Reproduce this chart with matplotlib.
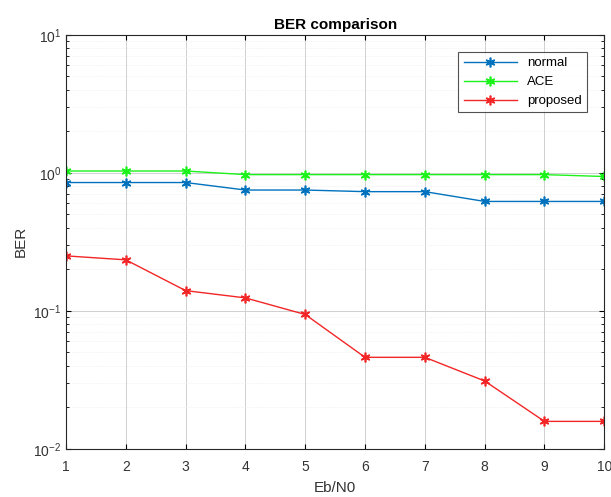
import numpy as np
import matplotlib
matplotlib.use("Agg")
import matplotlib.pyplot as plt

plt.rcParams['font.family'] = ['Liberation Sans', 'DejaVu Sans']

ebn0 = [1, 2, 3, 4, 5, 6, 7, 8, 9, 10]
ber_normal = [0.85, 0.85, 0.85, 0.75, 0.75, 0.73, 0.73, 0.62, 0.62, 0.62]
ber_ace = [1.03, 1.03, 1.03, 0.97, 0.97, 0.97, 0.97, 0.97, 0.97, 0.94]
ber_proposed = [0.25, 0.234, 0.14, 0.124, 0.094, 0.046, 0.046, 0.031, 0.0158, 0.0158]

fig = plt.figure(figsize=(6.11, 4.97), dpi=100)
ax = fig.add_axes([0.108, 0.097, 0.881, 0.833])

# matlab-style asterisk marker
ast = (6, 2, 0)
ax.semilogy(ebn0, ber_normal, '-', marker=ast, color=(0, 0.447, 0.741), label='normal', lw=1, ms=7, mew=1.2)
ax.semilogy(ebn0, ber_ace, '-', marker=ast, color=(0.1, 0.95, 0.1), label='ACE', lw=1, ms=7, mew=1.2)
ax.semilogy(ebn0, ber_proposed, '-', marker=ast, color=(0.95, 0.15, 0.15), label='proposed', lw=1, ms=7, mew=1.2)

ax.set_xlim(1, 10)
ax.set_ylim(1e-2, 10)
ax.set_xticks(ebn0)
ax.grid(True, which='major', color='#d0d0d0', lw=0.7)
ax.grid(True, which='minor', color='#e8e8e8', lw=0.5, ls=':')
ax.tick_params(which='both', direction='in', top=True, right=True, labelsize=10, labelcolor='#333333')
ax.tick_params(axis='x', pad=8)
for s in ax.spines.values():
    s.set_color('#262626')
    s.set_linewidth(0.8)

ax.set_xlabel('Eb/N0', fontsize=11, color='#333333', labelpad=5)
ax.set_ylabel('BER', fontsize=11, color='#333333')
ax.set_title('BER comparison', fontsize=11, fontweight='bold', pad=4)
leg = ax.legend(loc='upper right', fontsize=9.5, fancybox=False, edgecolor='#262626',
                borderaxespad=1.3, handlelength=4)
leg.get_frame().set_linewidth(0.8)

fig.savefig('out.png', dpi=100)
